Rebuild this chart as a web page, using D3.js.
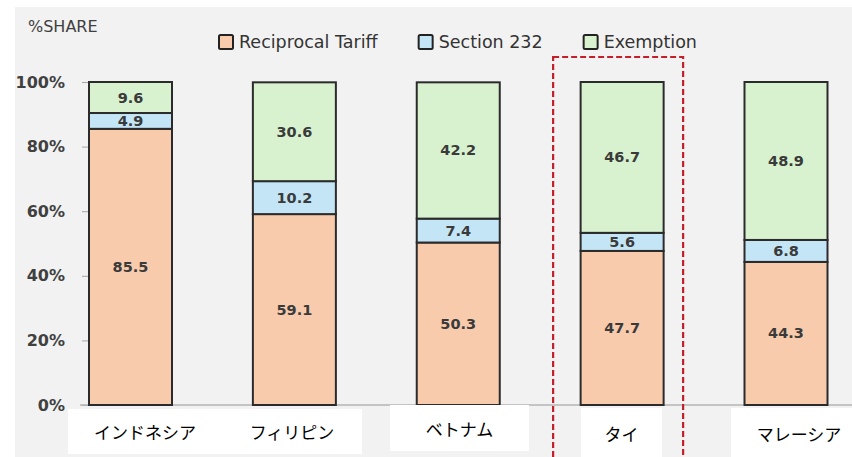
<!DOCTYPE html>
<html>
<head>
<meta charset="utf-8">
<script src="https://cdn.jsdelivr.net/npm/d3@7"></script>
<style>
  html, body { margin: 0; padding: 0; background: #fff; }
  svg { display: block; }
</style>
</head>
<body>
<div id="chart"></div>
<script>
// data
const categories = ["インドネシア", "フィリピン", "ベトナム", "タイ", "マレーシア"];
const seriesNames = ["Reciprocal Tariff", "Section 232", "Exemption"];
const reciprocal = [85.5, 59.1, 50.3, 47.7, 44.3];
const section232 = [4.9, 10.2, 7.4, 5.6, 6.8];
const exemption = [9.6, 30.6, 42.2, 46.7, 48.9];
const yTicks = [0, 20, 40, 60, 80, 100];
const highlighted = "タイ";

const w = 852, h = 457;
const colors = ["#f8cbad", "#c3e5f6", "#d8f2cf"];
const latin = "'DejaVu Sans', Verdana, sans-serif";
const cjk = "'Noto Sans CJK JP', sans-serif";

const rows = categories.map((c, i) => ({
  cat: c,
  "Reciprocal Tariff": reciprocal[i],
  "Section 232": section232[i],
  "Exemption": exemption[i]
}));
const stacked = d3.stack().keys(seriesNames)(rows);

const svg = d3.select("#chart").append("svg")
  .attr("width", w)
  .attr("height", h)
  .attr("viewBox", `0 0 ${w} ${h}`);

// gray panel
svg.append("rect")
  .attr("x", 15).attr("y", 7)
  .attr("width", w - 15).attr("height", h - 7)
  .attr("fill", "#f2f2f2");

const x = d3.scalePoint().domain(categories).range([130.5, 786]);
const barW = 83;
const y = d3.scaleLinear().domain([0, 100]).range([405, 82]);

// title
svg.append("text")
  .attr("x", 28).attr("y", 32)
  .text("%SHARE")
  .style("font-family", latin)
  .style("font-size", "16px")
  .style("fill", "#404040");

// y axis
const yAxis = svg.append("g")
  .attr("transform", "translate(88,0)")
  .call(d3.axisLeft(y).tickValues(yTicks).tickFormat(d => d + "%").tickSize(6).tickPadding(17));
yAxis.select(".domain").remove();
yAxis.selectAll(".tick line").attr("stroke", "#a6a6a6");
yAxis.selectAll(".tick text")
  .style("font-family", latin)
  .style("font-size", "16px")
  .style("font-weight", "bold")
  .style("fill", "#404040");

// baseline
svg.append("line")
  .attr("x1", 80).attr("x2", w)
  .attr("y1", y(0)).attr("y2", y(0))
  .attr("stroke", "#b4b4b4")
  .attr("stroke-width", 1.5);

// bars
const layer = svg.selectAll("g.layer")
  .data(stacked)
  .join("g")
  .attr("class", "layer")
  .attr("fill", (d, i) => colors[i]);

layer.selectAll("rect")
  .data(d => d)
  .join("rect")
  .attr("x", d => x(d.data.cat) - barW / 2)
  .attr("y", d => y(d[1]))
  .attr("width", barW)
  .attr("height", d => y(d[0]) - y(d[1]))
  .attr("stroke", "#2b2b2b")
  .attr("stroke-width", 2);

// value labels
layer.selectAll("text")
  .data(d => d.map(v => ({ v, key: d.key })))
  .join("text")
  .attr("x", d => x(d.v.data.cat))
  .attr("y", d => (y(d.v[0]) + y(d.v[1])) / 2)
  .attr("text-anchor", "middle")
  .attr("dominant-baseline", "central")
  .text(d => d.v.data[d.key].toFixed(1))
  .style("font-family", latin)
  .style("font-size", "14.5px")
  .style("font-weight", "bold")
  .style("fill", "#3a3a3a");

// legend
const legend = svg.append("g").attr("transform", "translate(218,42)");
let lx = 0;
seriesNames.forEach((name, i) => {
  const g = legend.append("g").attr("transform", `translate(${lx},0)`);
  g.append("rect")
    .attr("x", 1).attr("y", -7)
    .attr("width", 14).attr("height", 14)
    .attr("rx", 1.5)
    .attr("fill", colors[i])
    .attr("stroke", "#222")
    .attr("stroke-width", 2);
  const t = g.append("text")
    .attr("x", 21).attr("y", 0)
    .attr("dominant-baseline", "central")
    .text(name)
    .style("font-family", latin)
    .style("font-size", "17.5px")
    .style("fill", "#333");
  lx += 21 + t.node().getComputedTextLength() + 40;
});

// highlight box around Thailand
svg.append("rect")
  .attr("x", x(highlighted) - 69)
  .attr("y", 57)
  .attr("width", 130)
  .attr("height", h)
  .attr("fill", "none")
  .attr("stroke", "#c41e2a")
  .attr("stroke-width", 2.2)
  .attr("stroke-dasharray", "6,3");

// category labels on white boxes
const labelBoxes = [[68, 222, 409, 454], [222, 362, 409, 454], [390, 529, 405, 451], [581, 662, 408, 460], [731, 867, 408, 460]];
const catLabels = svg.selectAll("g.cat")
  .data(categories)
  .join("g")
  .attr("class", "cat");
catLabels.append("rect")
  .attr("x", (d, i) => labelBoxes[i][0])
  .attr("y", (d, i) => labelBoxes[i][2])
  .attr("width", (d, i) => labelBoxes[i][1] - labelBoxes[i][0])
  .attr("height", (d, i) => labelBoxes[i][3] - labelBoxes[i][2])
  .attr("fill", "#fff");
catLabels.append("text")
  .attr("x", (d, i) => (labelBoxes[i][0] + labelBoxes[i][1]) / 2)
  .attr("y", (d, i) => Math.min((labelBoxes[i][2] + labelBoxes[i][3]) / 2, 433))
  .attr("text-anchor", "middle")
  .attr("dominant-baseline", "central")
  .text(d => d)
  .style("font-family", cjk)
  .style("font-size", "17px")
  .style("fill", "#000");
</script>
</body>
</html>
